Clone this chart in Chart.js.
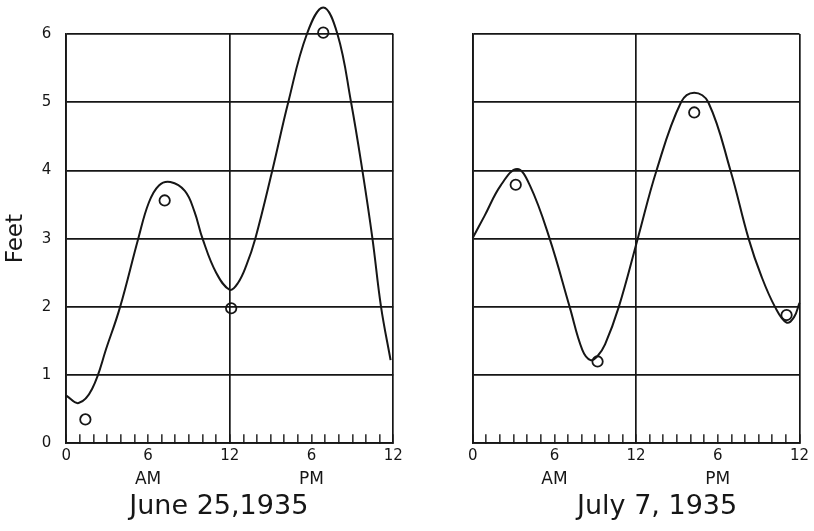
<!DOCTYPE html>
<html>
<head>
<meta charset="utf-8">
<script src="https://cdn.jsdelivr.net/npm/chart.js@4"></script>
<style>
  html, body { margin: 0; padding: 0; background: #fff; }
  #wrap { position: relative; width: 814px; height: 531px; overflow: hidden; }
  canvas { position: absolute; top: 0; }
  #c1 { left: 0; }
  #c2 { left: 420px; }
</style>
</head>
<body>
<div id="wrap">
  <canvas id="c1" width="420" height="531"></canvas>
  <canvas id="c2" width="394" height="531"></canvas>
</div>
<script>
// ---- data (hours after midnight, feet) ----
const june25CurveHours = [0, 0.9, 1.9, 3, 3.95, 5.28, 6.06, 6.8, 7.64, 8.7, 9.4, 10, 11, 12, 12.6, 13.2, 13.87, 15.12, 16.29, 17.66, 18.86, 19.9, 20.9, 21.73, 22.47, 23.1, 23.8];
const june25CurveFeet  = [0.70, 0.59, 0.8, 1.43, 2.0, 3.0, 3.53, 3.78, 3.83, 3.7, 3.4, 3.0, 2.5, 2.25, 2.35, 2.6, 3.0, 4.0, 5.0, 6.0, 6.39, 6.0, 5.0, 4.0, 3.0, 2.0, 1.22];
const june25ObsHours = [1.4, 7.22, 12.1, 18.86];
const june25ObsFeet  = [0.35, 3.56, 1.98, 6.02];

const july7CurveHours = [0, 0.86, 2.06, 3.26, 4.2, 5.65, 7.12, 8.05, 8.65, 9.17, 9.72, 10.73, 12.12, 13.5, 15.3, 16.27, 17.3, 18.93, 20.26, 21.2, 22.2, 23.05, 23.6, 24];
const july7CurveFeet  = [3.01, 3.33, 3.78, 4.02, 3.78, 3.0, 2.0, 1.37, 1.22, 1.28, 1.45, 2.0, 3.0, 4.0, 5.0, 5.14, 5.0, 4.0, 3.0, 2.45, 2.0, 1.77, 1.85, 2.06];
const july7ObsHours = [3.16, 9.17, 16.27, 23.05];
const july7ObsFeet  = [3.79, 1.2, 4.85, 1.88];

const hourTickLabels = { 0: '0', 6: '6', 12: '12', 18: '6', 24: '12' };
const halfDayLabels = { 6: 'AM', 18: 'PM' };
const yTicks = [0, 1, 2, 3, 4, 5, 6];
const titles = ['June 25,1935', 'July 7, 1935'];

const INK = '#161616';
const FONT = "'DejaVu Sans', sans-serif";

function pts(xs, ys) { return xs.map((x, i) => ({ x: x, y: ys[i] })); }

// draws the date caption under each panel (real canvas text)
const dateTitle = {
  id: 'dateTitle',
  afterDraw(chart, args, opts) {
    const ca = chart.chartArea;
    const ctx = chart.ctx;
    ctx.save();
    ctx.fillStyle = INK;
    ctx.font = opts.size + 'px ' + FONT;
    ctx.textAlign = 'center';
    ctx.textBaseline = 'middle';
    ctx.fillText(opts.text, (ca.left + ca.right) / 2 + opts.dx, ca.bottom + opts.dy);
    ctx.restore();
  }
};

function makeChart(id, curveH, curveF, obsH, obsF, title, showY, yAxisWidth, rightPad, titleDx) {
  return new Chart(document.getElementById(id), {
    type: 'line',
    plugins: [dateTitle],
    data: {
      datasets: [
        {
          data: pts(curveH, curveF),
          borderColor: INK,
          borderWidth: 2,
          pointRadius: 0,
          tension: 0.4,
          clip: false,
          fill: false
        },
        {
          data: pts(obsH, obsF),
          showLine: false,
          pointRadius: 5.2,
          pointBorderWidth: 1.8,
          pointBorderColor: INK,
          pointBackgroundColor: 'rgba(255,255,255,0)',
          clip: false
        }
      ]
    },
    options: {
      responsive: false,
      animation: false,
      devicePixelRatio: 1,
      elements: { line: { capBezierPoints: false } },
      layout: { padding: { top: 34, right: rightPad, left: 0, bottom: 531 - 443.3 - 23 - 26 } },
      plugins: {
        legend: { display: false },
        tooltip: { enabled: false },
        dateTitle: { text: title, dx: titleDx, dy: 64, size: 27 }
      },
      scales: {
        x: {
          type: 'linear',
          position: 'bottom',
          weight: 0,
          min: 0, max: 24,
          afterBuildTicks: (s) => { s.ticks = Array.from({ length: 25 }, (_, i) => ({ value: i })); },
          afterFit: (s) => { s.height = 23; s.paddingLeft = 0; s.paddingRight = 0; },
          border: { display: true, color: INK, width: 1.8 },
          grid: {
            color: (c) => (c.tick && (c.tick.value === 0 || c.tick.value === 12 || c.tick.value === 24)) ? INK : 'rgba(0,0,0,0)',
            lineWidth: 1.7,
            tickColor: INK,
            tickWidth: 1.4,
            tickLength: -9,
            drawTicks: true
          },
          ticks: {
            autoSkip: false,
            maxRotation: 0,
            padding: 12.7,
            color: INK,
            font: { family: FONT, size: 15 },
            callback: (v) => (hourTickLabels[v] !== undefined ? hourTickLabels[v] : '')
          }
        },
        x2: {
          type: 'linear',
          position: 'bottom',
          weight: 1,
          min: 0, max: 24,
          afterBuildTicks: (s) => { s.ticks = [{ value: 6 }, { value: 18 }]; },
          afterFit: (s) => { s.height = 26; s.paddingLeft = 0; s.paddingRight = 0; },
          border: { display: false },
          grid: { display: false, drawTicks: false },
          ticks: {
            autoSkip: false,
            maxRotation: 0,
            padding: 3.5,
            color: INK,
            font: { family: FONT, size: 17 },
            callback: (v) => (halfDayLabels[v] !== undefined ? halfDayLabels[v] : '')
          }
        },
        y: {
          type: 'linear',
          min: 0, max: 6,
          afterBuildTicks: (s) => { s.ticks = yTicks.map(v => ({ value: v })); },
          afterFit: (s) => { s.width = yAxisWidth; s.paddingTop = 0; s.paddingBottom = 0; },
          border: { display: true, color: INK, width: 1.8 },
          grid: { color: INK, lineWidth: 1.7, drawTicks: false },
          ticks: {
            display: showY,
            padding: 15,
            color: INK,
            font: { family: FONT, size: 15 }
          },
          title: {
            display: showY,
            text: 'Feet',
            color: INK,
            font: { family: FONT, size: 23 },
            padding: { top: 2, bottom: 0 }
          }
        }
      }
    }
  });
}

makeChart('c1', june25CurveHours, june25CurveFeet, june25ObsHours, june25ObsFeet, titles[0], true, 66.3, 26.7, -11);
makeChart('c2', july7CurveHours, july7CurveFeet, july7ObsHours, july7ObsFeet, titles[1], false, 52.7, 14.5, 21);
</script>
</body>
</html>
